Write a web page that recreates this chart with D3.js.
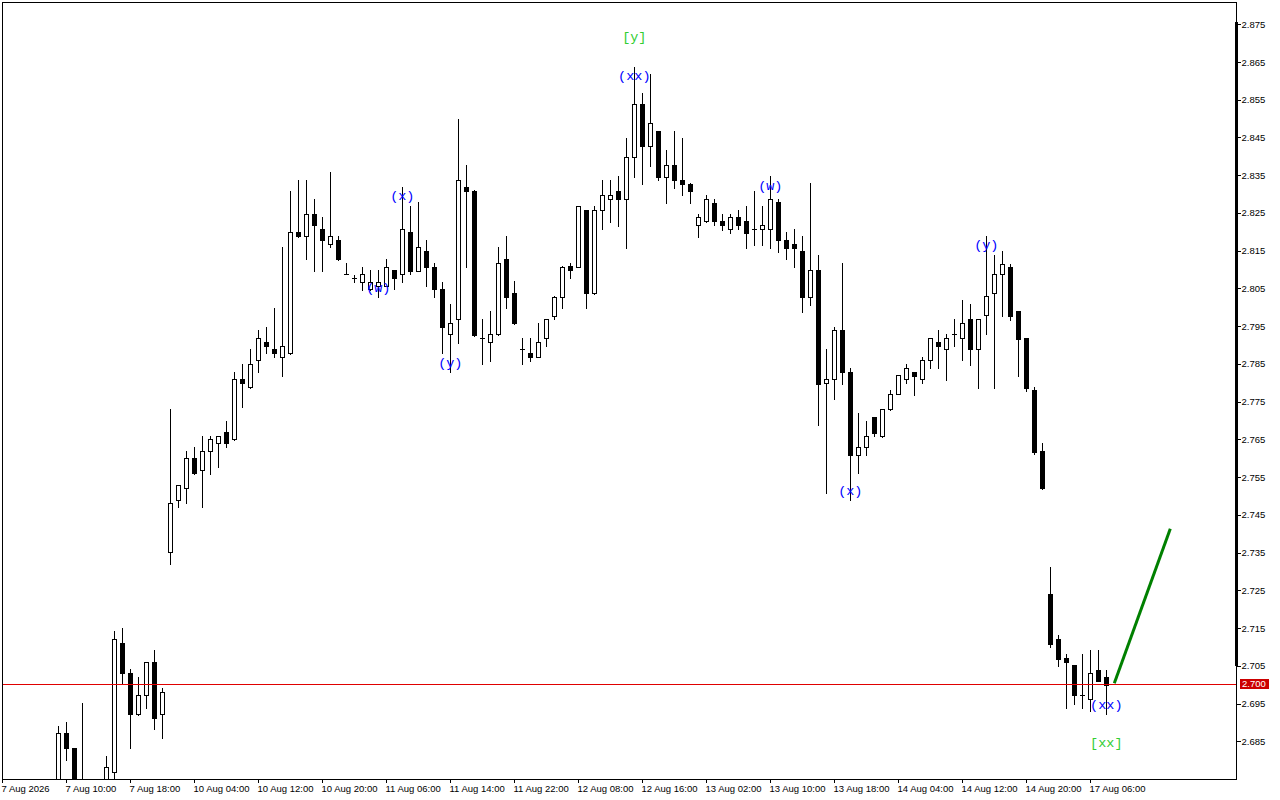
<!DOCTYPE html>
<html><head><meta charset="utf-8">
<script src="https://cdn.jsdelivr.net/npm/d3@7"></script>
<style>html,body{margin:0;padding:0;background:#fff;overflow:hidden}</style>
</head><body><svg id="c" width="1280" height="800"></svg>
<script>
// ---- data (hourly bars) ----
const opens=[2.6705,2.6725,2.6712,2.6720,2.6738,2.6722,2.6731,2.6728,2.6871,2.6831,
2.6735,2.6728,2.6740,2.6733,2.6769,2.7110,2.7030,2.6921,2.6972,2.7059,
2.6921,2.7351,2.7489,2.7520,2.7600,2.7568,2.7618,2.7640,2.7669,2.7650,
2.7809,2.7788,2.7860,2.7908,2.7889,2.7868,2.7878,2.8199,2.8188,2.8247,
2.8208,2.8168,2.8178,2.8088,2.8077,2.8068,2.8048,2.8057,2.8057,2.8098,
2.8087,2.8199,2.8097,2.8149,2.8108,2.8048,2.7928,2.7968,2.8319,2.8308,
2.7919,2.7907,2.7928,2.8127,2.8037,2.7889,2.7878,2.7868,2.7918,2.7978,
2.8028,2.8109,2.8108,2.8257,2.8037,2.8257,2.8287,2.8307,2.8287,2.8398,
2.8538,2.8427,2.8467,2.8346,2.8376,2.8337,2.8328,2.8217,2.8228,2.8277,
2.8228,2.8207,2.8239,2.8228,2.8207,2.8207,2.8207,2.8278,2.8178,2.8168,
2.8149,2.8028,2.8099,2.7799,2.7809,2.7939,2.7828,2.7609,2.7629,2.7709,
2.7658,2.7730,2.7770,2.7809,2.7828,2.7809,2.7860,2.7908,2.7889,2.7928,
2.7918,2.7968,2.7889,2.7979,2.8037,2.8088,2.8108,2.7989,2.7918,2.7781,
2.7618,2.7240,2.7120,2.7070,2.7052,2.6972,2.6961,2.7040,2.7020];
const highs=[2.6738,2.6742,2.6730,2.6745,2.6748,2.6740,2.6747,2.6890,2.6901,2.6832,
2.6951,2.6746,2.6748,2.6811,2.7142,2.7149,2.7041,2.7021,2.7060,2.7092,
2.6990,2.7730,2.7530,2.7619,2.7629,2.7658,2.7658,2.7659,2.7698,2.7829,
2.7849,2.7889,2.7940,2.7947,2.7997,2.8159,2.8308,2.8337,2.8337,2.8286,
2.8239,2.8358,2.8188,2.8117,2.8086,2.8108,2.8099,2.8099,2.8127,2.8099,
2.8320,2.8268,2.8278,2.8178,2.8117,2.8068,2.8008,2.8499,2.8377,2.8310,
2.7970,2.7990,2.8160,2.8189,2.8070,2.7919,2.7919,2.7958,2.7969,2.8029,
2.8109,2.8117,2.8269,2.8258,2.8268,2.8337,2.8337,2.8348,2.8448,2.8638,
2.8567,2.8617,2.8468,2.8417,2.8467,2.8448,2.8329,2.8247,2.8297,2.8287,
2.8247,2.8247,2.8258,2.8268,2.8308,2.8268,2.8348,2.8286,2.8199,2.8208,
2.8189,2.8330,2.8139,2.7890,2.7948,2.8117,2.7838,2.7719,2.7699,2.7710,
2.7731,2.7781,2.7821,2.7850,2.7829,2.7869,2.7919,2.7939,2.7928,2.7968,
2.8019,2.8008,2.7969,2.8189,2.8138,2.8149,2.8116,2.7990,2.7919,2.7788,
2.7640,2.7312,2.7132,2.7082,2.7053,2.7082,2.7091,2.7091,2.7040];
const lows=[2.6690,2.6702,2.6695,2.6708,2.6715,2.6700,2.6718,2.6720,2.6800,2.6712,
2.6705,2.6710,2.6716,2.6725,2.6740,2.7001,2.6831,2.6920,2.6939,2.6882,
2.6859,2.7319,2.7470,2.7481,2.7558,2.7470,2.7559,2.7577,2.7629,2.7648,
2.7737,2.7787,2.7828,2.7878,2.7868,2.7819,2.7877,2.8187,2.8127,2.8097,
2.8097,2.8159,2.8126,2.8088,2.8068,2.8046,2.8046,2.8028,2.8056,2.8048,
2.8068,2.8087,2.8096,2.8057,2.8028,2.7878,2.7829,2.7906,2.8108,2.7925,
2.7849,2.7858,2.7927,2.7997,2.7957,2.7849,2.7858,2.7867,2.7898,2.7968,
2.7997,2.8077,2.8107,2.7997,2.8036,2.8207,2.8227,2.8216,2.8158,2.8346,
2.8328,2.8375,2.8337,2.8277,2.8317,2.8297,2.8277,2.8187,2.8227,2.8217,
2.8205,2.8198,2.8207,2.8158,2.8165,2.8165,2.8158,2.8147,2.8127,2.8108,
2.7988,2.8006,2.7688,2.7509,2.7758,2.7798,2.7489,2.7560,2.7609,2.7658,
2.7657,2.7729,2.7769,2.7799,2.7768,2.7799,2.7838,2.7838,2.7807,2.7898,
2.7860,2.7848,2.7787,2.7928,2.7787,2.7978,2.7967,2.7819,2.7779,2.7611,
2.7519,2.7100,2.7050,2.6937,2.6949,2.6937,2.6931,2.7010,2.6922];
const closes=[2.6725,2.6712,2.6720,2.6738,2.6722,2.6731,2.6728,2.6871,2.6831,2.6735,
2.6728,2.6740,2.6733,2.6781,2.7120,2.7030,2.6921,2.6972,2.7059,2.6911,
2.6980,2.7481,2.7528,2.7600,2.7560,2.7618,2.7650,2.7658,2.7640,2.7809,
2.7799,2.7849,2.7918,2.7898,2.7878,2.7898,2.8199,2.8188,2.8247,2.8217,
2.8178,2.8188,2.8127,2.8088,2.8077,2.8087,2.8068,2.8068,2.8108,2.8077,
2.8207,2.8097,2.8159,2.8108,2.8048,2.7947,2.7958,2.8337,2.8307,2.7927,
2.7919,2.7928,2.8117,2.8028,2.7958,2.7889,2.7868,2.7907,2.7968,2.8028,
2.8108,2.8098,2.8268,2.8037,2.8257,2.8298,2.8298,2.8287,2.8398,2.8538,
2.8427,2.8488,2.8346,2.8376,2.8337,2.8328,2.8307,2.8239,2.8287,2.8228,
2.8217,2.8239,2.8217,2.8198,2.8207,2.8217,2.8286,2.8177,2.8158,2.8158,
2.8028,2.8099,2.7798,2.7809,2.7939,2.7828,2.7609,2.7629,2.7658,2.7668,
2.7730,2.7770,2.7820,2.7838,2.7819,2.7860,2.7918,2.7898,2.7918,2.7928,
2.7958,2.7889,2.7968,2.8029,2.8087,2.8116,2.7978,2.7917,2.7786,2.7617,
2.7520,2.7109,2.7068,2.7059,2.6972,2.6972,2.7030,2.7011,2.7000];

const xTickIdx=[0,8,16,24,32,40,48,56,64,72,80,88,96,104,112,120,128,136];
const xTickLabels=["7 Aug 2026","7 Aug 10:00","7 Aug 18:00","10 Aug 04:00","10 Aug 12:00",
"10 Aug 20:00","11 Aug 06:00","11 Aug 14:00","11 Aug 22:00","12 Aug 08:00","12 Aug 16:00",
"13 Aug 02:00","13 Aug 10:00","13 Aug 18:00","14 Aug 04:00","14 Aug 12:00","14 Aug 20:00","17 Aug 06:00"];
const yTicks=[2.685,2.695,2.705,2.715,2.725,2.735,2.745,2.755,2.765,2.775,2.785,2.795,2.805,2.815,2.825,2.835,2.845,2.855,2.865,2.875];
const currentPrice=2.700;

const waveText=["(w)","(x)","(y)","(xx)","[y]","(w)","(x)","(y)","(xx)","[xx]"];
const waveIdx=[47,50,56,79,79,96,106,123,138,138];
const wavePrice=[2.8051,2.8293,2.7852,2.8611,2.8714,2.8320,2.7511,2.8165,2.6945,2.6844];
const waveColor=["#0000ff","#0000ff","#0000ff","#0000ff","#32cd32","#0000ff","#0000ff","#0000ff","#0000ff","#32cd32"];

const projIdx=[139,146];
const projPrice=[2.7004,2.7413];

// ---- layout ----
const L=2, R=1237, T=2, B=779;
const svg=d3.select("#c");
const x=d3.scaleLinear().domain([0,154]).range([2.3,2.3+8*154]);
const y=d3.scaleLinear().domain([2.675,2.8809]).range([B,T]);

svg.append("rect").attr("width",1280).attr("height",800).attr("fill","#fff");
svg.append("defs").append("clipPath").attr("id","clip").append("rect")
  .attr("x",L).attr("y",T).attr("width",R-L).attr("height",B-T);

const plot=svg.append("g").attr("clip-path","url(#clip)").attr("shape-rendering","crispEdges");

const bars=d3.range(opens.length).map(i=>({i,o:opens[i],h:highs[i],l:lows[i],c:closes[i]}));
const px=i=>Math.round(x(i)-0.3);

const g=plot.selectAll("g.bar").data(bars).join("g").attr("class","bar");
g.append("line")
  .attr("x1",d=>px(d.i)+0.5).attr("x2",d=>px(d.i)+0.5)
  .attr("y1",d=>Math.round(y(d.h))).attr("y2",d=>Math.round(y(d.l))+1)
  .attr("stroke","#000").attr("stroke-width",1);
g.each(function(d){
  const sel=d3.select(this);
  const yt=Math.round(y(Math.max(d.o,d.c))), yb=Math.round(y(Math.min(d.o,d.c)));
  if(Math.abs(d.o-d.c)<0.00005){
    sel.append("line").attr("x1",px(d.i)-2).attr("x2",px(d.i)+3)
      .attr("y1",yt+0.5).attr("y2",yt+0.5).attr("stroke","#000");
  } else {
    sel.append("rect").attr("x",px(d.i)-1.5).attr("y",yt+0.5)
      .attr("width",4).attr("height",Math.max(1,yb-yt))
      .attr("fill",d.c>d.o?"#fff":"#000").attr("stroke","#000").attr("stroke-width",1);
  }
});

// current price line
const cpy=Math.round(y(currentPrice))-0.5;
plot.append("line").attr("x1",L).attr("x2",R).attr("y1",cpy).attr("y2",cpy)
  .attr("stroke","#e00000").attr("stroke-width",1);

// projection line
plot.append("line")
  .attr("x1",x(projIdx[0])).attr("y1",y(projPrice[0]))
  .attr("x2",x(projIdx[1])).attr("y2",y(projPrice[1]))
  .attr("stroke","#008000").attr("stroke-width",3).attr("shape-rendering","auto");

// wave labels
svg.append("g").selectAll("text").data(waveText).join("text")
  .attr("x",(d,i)=>x(waveIdx[i])).attr("y",(d,i)=>y(wavePrice[i]))
  .attr("text-anchor","middle").attr("dominant-baseline","central")
  .attr("font-family","'Liberation Mono', monospace").attr("font-size","13.5px")
  .attr("fill",(d,i)=>waveColor[i]).text(d=>d);

// frame
svg.append("rect").attr("x",L+0.5).attr("y",T+0.5).attr("width",R-L-1).attr("height",B-T)
  .attr("fill","none").attr("stroke","#000").attr("shape-rendering","crispEdges");
// thick scale bar on right edge
svg.append("rect").attr("x",R-2).attr("y",Math.round(y(2.8755))).attr("width",3)
  .attr("height",Math.round(y(2.705))-Math.round(y(2.8755))).attr("fill","#000");

// axes
const yAxis=d3.axisRight(y).tickValues(yTicks).tickSize(4).tickPadding(1).tickFormat(d3.format(".3f"));
const gy=svg.append("g").attr("transform",`translate(${R-0.5},0)`).call(yAxis);
gy.select(".domain").remove();
gy.attr("font-family","'Liberation Sans', Arial, sans-serif").attr("font-size","9.5px");
gy.selectAll("line").attr("shape-rendering","crispEdges");

const xAxis=d3.axisBottom(x).tickValues(xTickIdx).tickSize(4).tickPadding(2).tickFormat((d,i)=>xTickLabels[i]);
const gx=svg.append("g").attr("transform",`translate(-0.3,${B})`).call(xAxis);
gx.select(".domain").remove();
gx.attr("font-family","'Liberation Sans', Arial, sans-serif").attr("font-size","9.5px");
gx.selectAll("text").attr("text-anchor","start").attr("x",-1);
gx.selectAll("line").attr("shape-rendering","crispEdges");

// current price tag
const ty=y(currentPrice);
svg.append("rect").attr("x",1240).attr("y",Math.round(ty)-6).attr("width",29).attr("height",10).attr("fill","#cc0000");
svg.append("text").attr("x",1242).attr("y",ty-0.5).attr("dy","0.35em")
  .attr("font-family","'Liberation Sans', Arial, sans-serif").attr("font-size","9.5px")
  .attr("fill","#fff").text(d3.format(".3f")(currentPrice));
</script></body></html>
